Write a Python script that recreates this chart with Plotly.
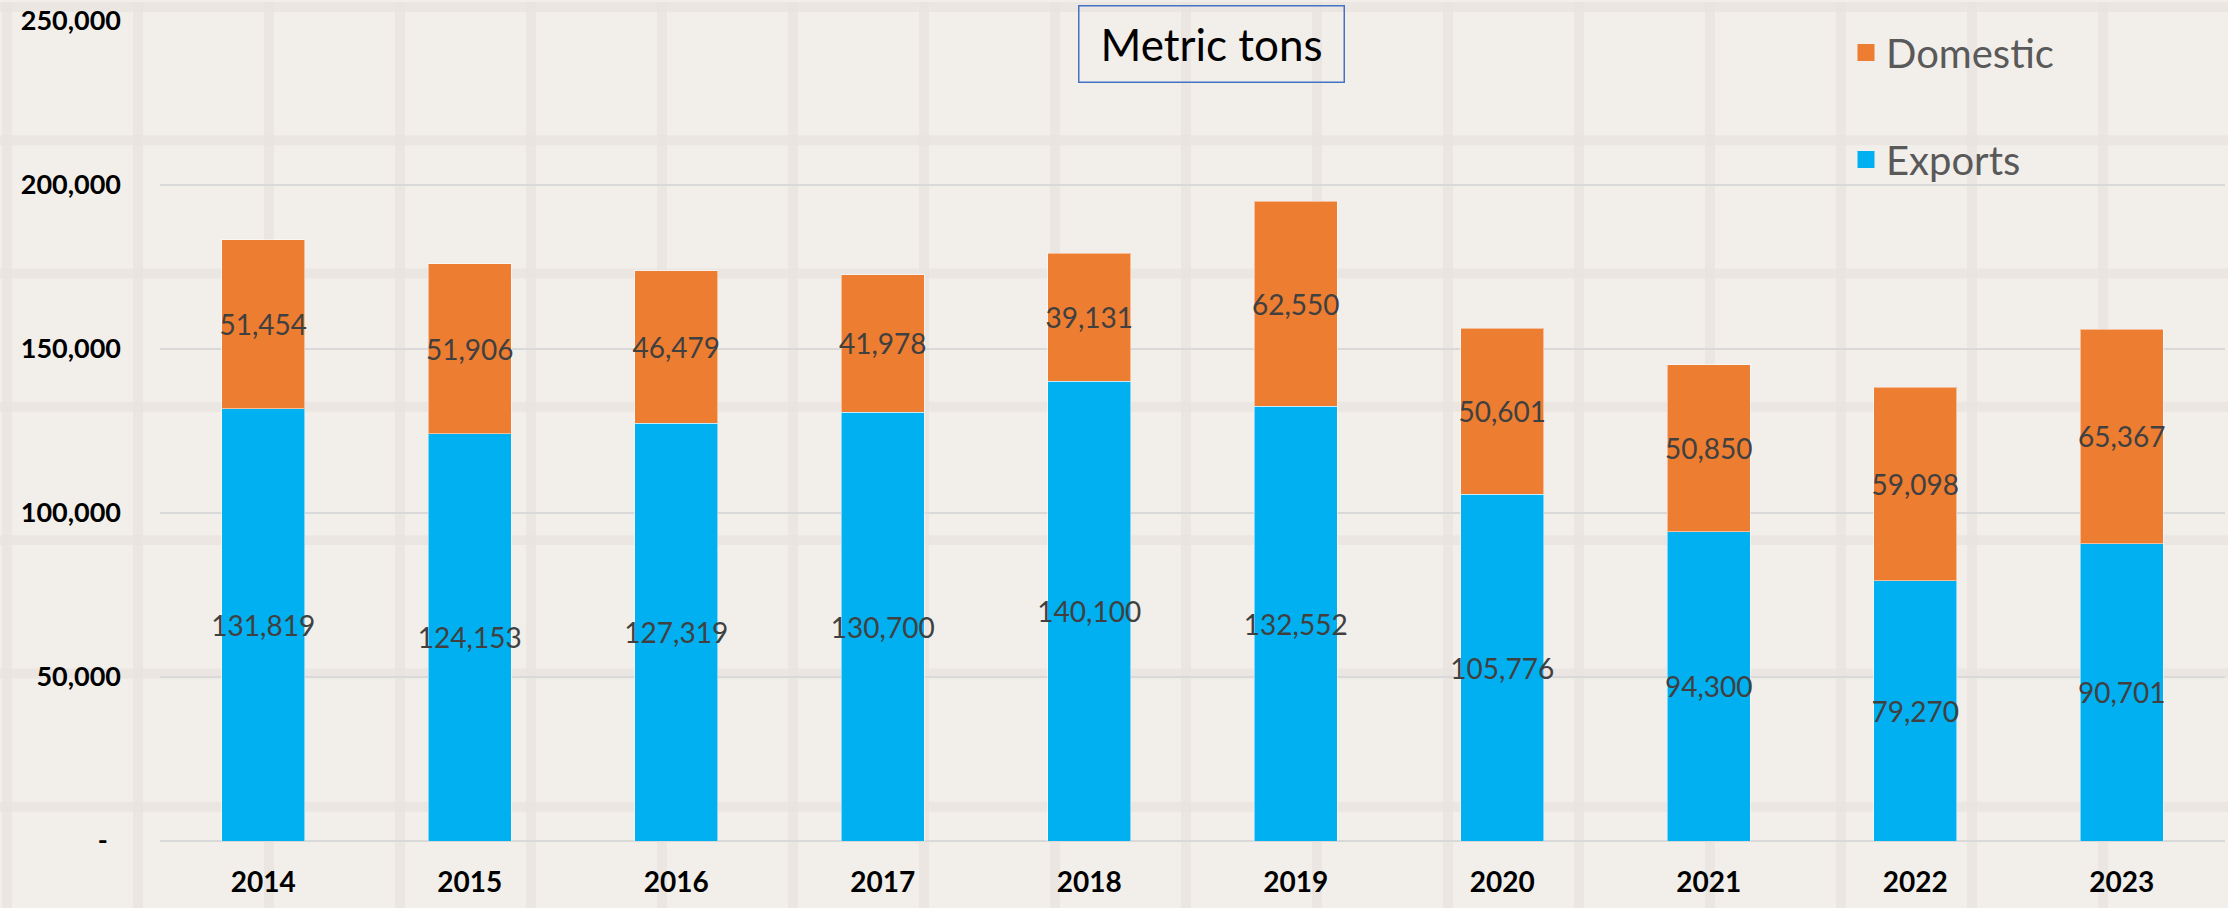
import plotly.graph_objects as go

years = ["2014", "2015", "2016", "2017", "2018", "2019", "2020", "2021", "2022", "2023"]
exports = [131819, 124153, 127319, 130700, 140100, 132552, 105776, 94300, 79270, 90701]
domestic = [51454, 51906, 46479, 41978, 39131, 62550, 50601, 50850, 59098, 65367]
y_ticks = [0, 50000, 100000, 150000, 200000, 250000]
y_ticktext = ["-\u00a0\u00a0" if v == 0 else f"{v:,}" for v in y_ticks]

W, H = 2228, 908
ML, MR, MT, MB = 160, 3, 19, 67
PW, PH = W - ML - MR, H - MT - MB

BG = "#F2EFEB"
STRIPE = "#E8E3DE"
FONT = "Lato"
C_EXP = "#00B0F0"
C_DOM = "#ED7D31"


def px_x(px):
    return (px - ML) / PW


def px_y(py):
    return (H - MB - py) / PH


fig = go.Figure()
common = dict(
    textposition="inside",
    insidetextanchor="middle",
    constraintext="none",
    textangle=0,
    texttemplate="%{y:,}",
    insidetextfont=dict(family=FONT, size=28, color="#404040"),
    hoverinfo="x+y+name",
    showlegend=False,
)
fig.add_trace(go.Bar(x=years, y=exports, name="Exports",
                     marker=dict(color=C_EXP, line=dict(width=1, color="rgba(255,255,255,0.5)")),
                     **common))
fig.add_trace(go.Bar(x=years, y=domestic, name="Domestic",
                     marker=dict(color=C_DOM, line=dict(width=1, color="rgba(255,255,255,0.5)")),
                     **common))
# legend entries (larger swatches)
for nm, col in [("Domestic", C_DOM), ("Exports", C_EXP)]:
    fig.add_trace(go.Bar(x=[None], y=[None], name=nm, legendgroup=nm, showlegend=True,
                         marker=dict(color=col, line=dict(width=5, color=col)),
                         hoverinfo="skip"))

# decorative plaid background texture
shapes = []
sw = 10
for k in range(18):
    cx = 7 + 131 * k
    shapes.append(dict(type="rect", xref="paper", yref="paper", layer="below",
                       x0=px_x(cx - sw / 2), x1=px_x(cx + sw / 2), y0=px_y(H), y1=px_y(0),
                       fillcolor=STRIPE, line=dict(width=0), opacity=0.7))
for k in range(7):
    cy = 5 + 133.6 * k
    shapes.append(dict(type="rect", xref="paper", yref="paper", layer="below",
                       x0=px_x(0), x1=px_x(W), y0=px_y(cy + sw / 2), y1=px_y(cy - sw / 2),
                       fillcolor=STRIPE, line=dict(width=0), opacity=0.7))

fig.update_layout(
    width=W, height=H, autosize=False,
    barmode="stack", bargap=0.6,
    paper_bgcolor=BG, plot_bgcolor="rgba(0,0,0,0)",
    margin=dict(l=ML, r=MR, t=MT, b=MB, pad=0),
    font=dict(family=FONT, color="#404040"),
    shapes=shapes,
    showlegend=True,
    legend=dict(
        x=px_x(1846), y=px_y(18), xanchor="left", yanchor="top",
        traceorder="grouped", tracegroupgap=52,
        font=dict(family=FONT, size=40, color="#595959"),
        bgcolor="rgba(0,0,0,0)",
    ),
    xaxis=dict(
        type="category", showgrid=False, zeroline=False, showline=False,
        ticks="", tickfont=dict(family=FONT, size=28, color="#000000", weight="bold"),
        ticklabelstandoff=22,
    ),
    yaxis=dict(
        range=[0, 250000], tickvals=y_ticks, ticktext=y_ticktext,
        showgrid=True, gridcolor="#D9D9D9", gridwidth=2,
        zeroline=True, zerolinecolor="#D9D9D9", zerolinewidth=2,
        showline=False, ticks="",
        tickfont=dict(family=FONT, size=27, color="#000000", weight="bold"),
        ticklabelstandoff=38,
    ),
    annotations=[dict(
        text="Metric tons", xref="paper", yref="paper",
        x=px_x(1211), y=px_y(42), xanchor="center", yanchor="middle",
        showarrow=False, font=dict(family=FONT, size=44, color="#000000"),
        bordercolor="#4472C4", borderwidth=1.5, borderpad=0,
        width=264, height=75, bgcolor="rgba(0,0,0,0)",
    )],
)

fig.write_html("out.html", config={"displayModeBar": False},
               post_script="document.body.style.margin='0';")
